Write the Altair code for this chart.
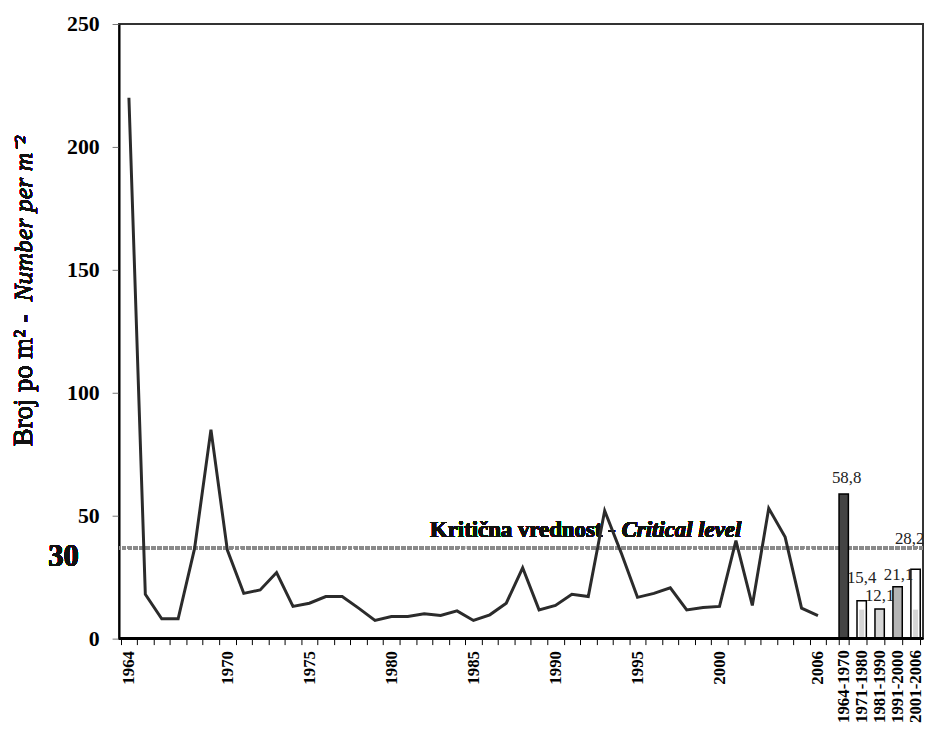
import altair as alt
import pandas as pd

# ---------------- data ----------------
years = list(range(1964, 2007))
counts = [220, 18.0, 8.1, 8.1, 36.6, 85, 36.0, 18.4, 19.8, 26.9,
          13.1, 14.4, 17.1, 17.1, 12.4, 7.4, 9.0, 9.0, 10.1, 9.4,
          11.3, 7.4, 9.7, 14.4, 28.8, 11.7, 13.5, 18.0, 17.1, 52.0,
          35.0, 16.8, 18.4, 20.7, 11.7, 12.7, 13.1, 39.9, 13.5, 53.0,
          41.3, 12.4, 9.4]
labeled_years = [1964, 1970, 1975, 1980, 1985, 1990, 1995, 2000, 2006]

periods = ["1964-1970", "1971-1980", "1981-1990", "1991-2000", "2001-2006"]
period_means = [58.8, 15.4, 12.1, 21.1, 28.2]
dotted_part = [None, 11.8, None, None, 11.8]

critical_drawn = 37
critical_label = "30"
y_ticks = [0, 50, 100, 150, 200, 250]

# ---------------- styles ----------------
SERIF = "Liberation Serif"
bar_fills = ["#444444", "#ffffff", "#d6d6d6", "#b5b5b5", "#ffffff"]
label_dx = [3, 0, 0, 1, -6]
label_dy = [-11, -18, -8, -7, -26]

df_line = pd.DataFrame({"year": years, "count": counts})
df_bars = pd.DataFrame({
    "period": periods,
    "mean": period_means,
    "fill": bar_fills,
    "label": [f"{v:.1f}".replace(".", ",") for v in period_means],
    "dotted": dotted_part,
})

yscale = alt.Scale(domain=[0, 250], nice=False, zero=True)
y_axis = alt.Axis(values=y_ticks, title=None, grid=False, labelFont=SERIF,
                  labelFontWeight="bold", labelFontSize=22, labelColor="black",
                  tickSize=7, tickColor="#777", labelPadding=13,
                  domainColor="black", domainWidth=2)

# ---------------- year line ----------------
label_expr = ("indexof([" + ",".join(str(y) for y in labeled_years)
              + "], datum.value) >= 0 ? datum.label : ''")
year_scale = alt.Scale(type="band", range=[1.7, 713.3], paddingInner=0, paddingOuter=0)
line = alt.Chart(df_line).mark_line(color="#2b2b2b", strokeWidth=3).encode(
    x=alt.X("year:O", scale=year_scale, bandPosition=0.5,
            axis=alt.Axis(orient="bottom", title=None, domain=False, labelExpr=label_expr,
                          labelAngle=270, labelFont=SERIF, labelFontWeight="bold",
                          labelFontSize=17, labelColor="black", tickBand="extent",
                          tickSize=6, tickColor="black", labelPadding=6, labelOverlap=False)),
    y=alt.Y("count:Q", scale=yscale, axis=y_axis),
)

# ---------------- period bars ----------------
bar_scale = alt.Scale(type="band", range=[726.3, 808.2], paddingInner=0.48, paddingOuter=0)
bar_axis = alt.Axis(orient="bottom", title=None, domain=False, labelAngle=270,
                    labelFont=SERIF, labelFontWeight="bold", labelFontSize=17,
                    labelColor="black", tickBand="extent", tickSize=6,
                    tickColor="black", labelPadding=5, labelOverlap=False)
xb = alt.X("period:N", sort=periods, scale=bar_scale, axis=bar_axis)
xb_c = alt.X("period:N", sort=periods, scale=bar_scale, axis=bar_axis, bandPosition=0.5)

bars = alt.Chart(df_bars).mark_bar(stroke="black", strokeWidth=1.5).encode(
    x=xb,
    y=alt.Y("mean:Q", scale=yscale, axis=y_axis),
    fill=alt.Fill("fill:N", scale=None),
)
inner = alt.Chart(df_bars).transform_filter("isValid(datum.dotted)").mark_bar(
    width=5, color="#d6d6d6").encode(
    x=xb_c,
    y=alt.Y("dotted:Q", scale=yscale, axis=y_axis),
)
labels = []
for i in range(len(periods)):
    labels.append(
        alt.Chart(df_bars.iloc[[i]]).mark_text(
            dx=label_dx[i], dy=label_dy[i], baseline="alphabetic", align="center",
            font=SERIF, fontSize=17, color="#222").encode(
            x=xb_c,
            y=alt.Y("mean:Q", scale=yscale, axis=y_axis),
            text="label:N",
        )
    )
bar_group = alt.layer(bars, inner, *labels)

# ---------------- annotations ----------------
crit = alt.Chart(df_line).mark_rule(color="#8a8a8a", strokeWidth=3.5, strokeDash=[4, 2]).encode(
    y=alt.YDatum(critical_drawn, scale=yscale, axis=y_axis))
base = alt.Chart(df_line).mark_rule(color="black", strokeWidth=2).encode(
    y=alt.YDatum(0, scale=yscale, axis=y_axis))

crit_txt1 = alt.Chart(df_line).mark_text(
    text="Kritična vrednost -", font=SERIF, fontWeight="bold", fontSize=23,
    align="right", baseline="alphabetic", color="#111").encode(
    x=alt.value(501), y=alt.value(517))
crit_txt2 = alt.Chart(df_line).mark_text(
    text="Critical level", font=SERIF, fontWeight="bold", fontStyle="italic", fontSize=23,
    align="left", baseline="alphabetic", color="#111").encode(
    x=alt.value(507), y=alt.value(517))
thirty = alt.Chart(df_line).mark_text(
    text=critical_label, font=SERIF, fontWeight="bold", fontSize=31,
    align="center", baseline="alphabetic", color="#111").encode(
    x=alt.value(-56), y=alt.value(547))
ytitle1 = alt.Chart(df_line).mark_text(
    text="Broj po m² -", font=SERIF, fontSize=27, angle=270,
    align="left", baseline="middle", color="#111").encode(
    x=alt.value(-96), y=alt.value(426))
ytitle2 = alt.Chart(df_line).mark_text(
    text="Number per m⁻²", font=SERIF, fontStyle="italic", fontSize=26, angle=270,
    align="left", baseline="middle", color="#111").encode(
    x=alt.value(-96), y=alt.value(280))

chart = alt.layer(
    crit, crit_txt1, crit_txt2, thirty, ytitle1, ytitle2, line, bar_group, base
).resolve_scale(x="independent").properties(
    width=811, height=620,
    autosize=alt.AutoSizeParams(type="none"),
    padding={"left": 112, "top": 13, "right": 1, "bottom": 87},
    background="white",
).configure_view(stroke="#333", strokeWidth=2)

chart.save("out.html", embed_options={"renderer": "svg", "actions": False})
